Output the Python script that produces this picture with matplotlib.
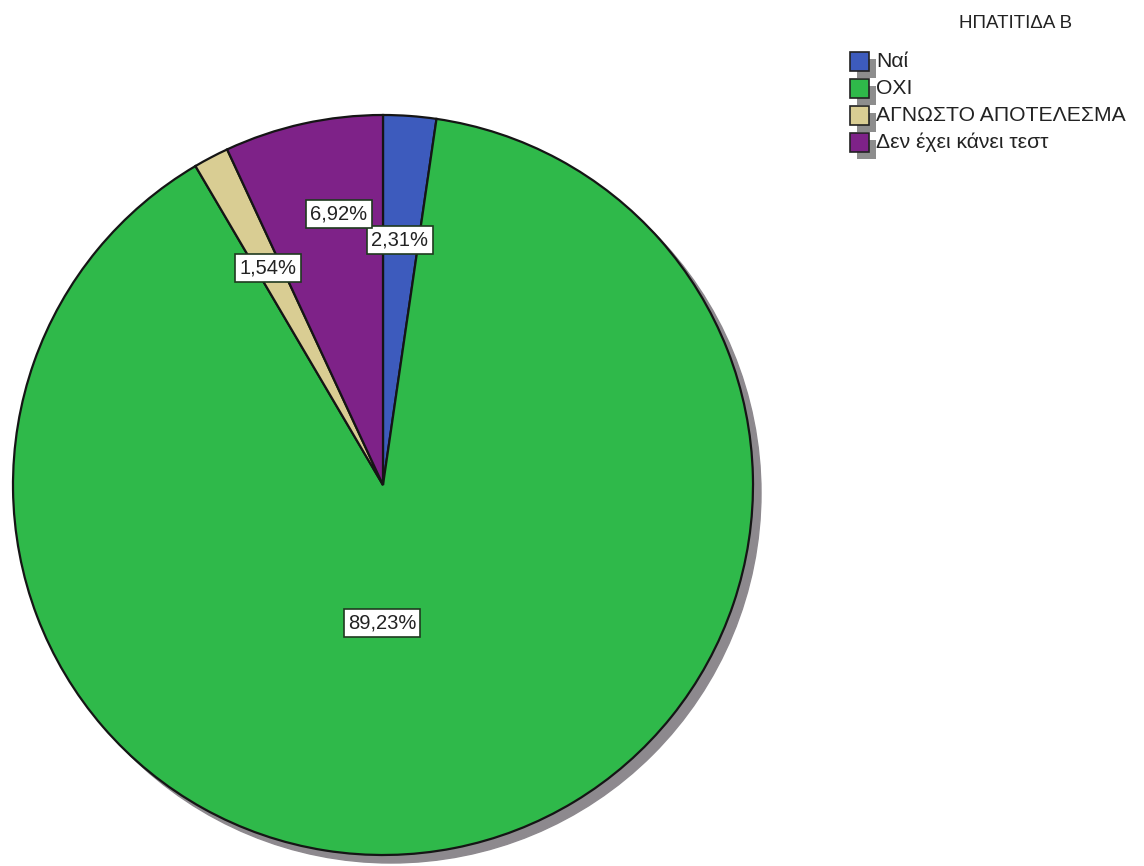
import matplotlib

matplotlib.use("Agg")
import matplotlib.pyplot as plt
from matplotlib.patches import Circle, Rectangle

plt.rcParams["font.family"] = ["Liberation Sans", "DejaVu Sans"]

# data
categories = ["Ναί", "ΟΧΙ", "ΑΓΝΩΣΤΟ ΑΠΟΤΕΛΕΣΜΑ", "Δεν έχει κάνει τεστ"]
percents = [2.31, 89.23, 1.54, 6.92]
colors = ["#3d5bbd", "#2fb94a", "#d9cd93", "#7e2288"]
title = "ΗΠΑΤΙΤΙΔΑ Β"

# label box centres in pixel space (x, y from top)
label_pos = [(400, 240), (382, 623), (268, 268), (339, 214)]

W, H = 1144, 866
fig = plt.figure(figsize=(W / 100, H / 100), dpi=100)
ax = fig.add_axes([0, 0, 1, 1])

cx, cy, r = 383, H - 485, 370
shadow_off = 8

# drop shadow
ax.add_patch(Circle((cx + shadow_off, cy - shadow_off), r, color="#8d898e", zorder=0))

ax.pie(
    percents,
    colors=colors,
    startangle=90,
    counterclock=False,
    center=(cx, cy),
    radius=r,
    wedgeprops={"edgecolor": "#151515", "linewidth": 1.6, "zorder": 1},
    frame=True,
)

for pct, (px, py) in zip(percents, label_pos):
    ax.text(
        px, H - py, f"{pct:.2f}%".replace(".", ","),
        ha="center", va="center", fontsize=14.5, color="#222222", zorder=5,
        bbox=dict(boxstyle="square,pad=0.2", fc="white", ec="#1f3a1f", lw=1.2),
    )

# legend, drawn by hand to keep SPSS look
ax.text(1016, H - 23, title, ha="center", va="center", fontsize=13.5, color="#222222")
box = 19
for i, (name, col) in enumerate(zip(categories, colors)):
    y0 = 52 + i * 27
    ax.add_patch(Rectangle((850 + 7, H - y0 - box - 7), box, box,
                           fc="#8d8d8d", ec="none", zorder=2))
    ax.add_patch(Rectangle((850, H - y0 - box), box, box,
                           fc=col, ec="#222222", lw=1.2, zorder=3))
    ax.text(876, H - y0 - box / 2, name, ha="left", va="center",
            fontsize=15.2, color="#222222", zorder=4)

ax.set_xlim(0, W)
ax.set_ylim(0, H)
ax.set_aspect("equal")
ax.axis("off")

fig.savefig("out.png", dpi=100)
